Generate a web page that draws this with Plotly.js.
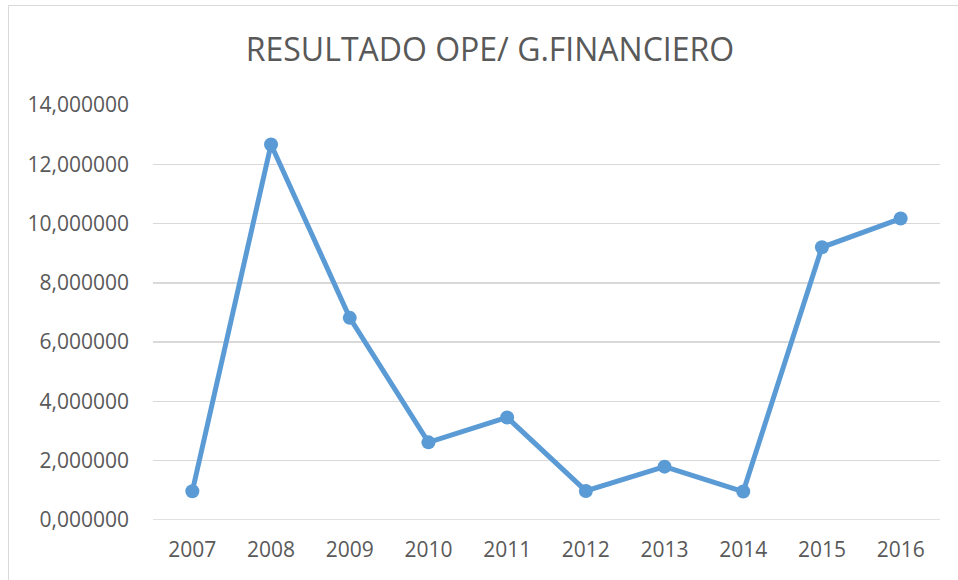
<!DOCTYPE html>
<html>
<head>
<meta charset="utf-8">
<script src="https://cdn.plot.ly/plotly-3.0.1.min.js"></script>
<style>
  html, body { margin: 0; padding: 0; background: #fff; }
  #wrap { position: relative; width: 958px; height: 580px; }
  #chart { width: 958px; height: 580px; }
  #frame { position: absolute; left: 8px; top: 5px; width: 950px; height: 575px;
           border-left: 1.5px solid #d9d9d9; border-top: 1.5px solid #d9d9d9;
           box-sizing: border-box; pointer-events: none; }
</style>
</head>
<body>
<div id="wrap">
  <div id="chart"></div>
  <div id="frame"></div>
</div>
<script>
const years = ["2007","2008","2009","2010","2011","2012","2013","2014","2015","2016"];
const resultado = [0.97, 12.67, 6.82, 2.62, 3.46, 0.98, 1.80, 0.96, 9.20, 10.17];
const yTicks = [0, 2, 4, 6, 8, 10, 12, 14];
const chartTitle = "RESULTADO OPE/ G.FINANCIERO";

const trace = {
  x: years,
  y: resultado,
  type: "scatter",
  mode: "lines+markers",
  line: { color: "#5B9BD5", width: 5 },
  marker: { color: "#5B9BD5", size: 14 },
  hoverinfo: "x+y"
};

const layout = {
  width: 958,
  height: 580,
  margin: { l: 153, r: 18, t: 105, b: 60 },
  paper_bgcolor: "#ffffff",
  plot_bgcolor: "#ffffff",
  separators: ",.",
  showlegend: false,
  font: { family: "Open Sans, sans-serif", color: "#595959", size: 21 },
  title: {
    text: chartTitle,
    font: { family: "Open Sans, sans-serif", size: 32, color: "#595959" },
    x: 490 / 958, xref: "container", xanchor: "center",
    y: 1 - 50 / 580, yref: "container", yanchor: "middle"
  },
  xaxis: {
    type: "category",
    range: [-0.5, 9.5],
    showgrid: false,
    showline: false,
    zeroline: false,
    ticks: "",
    tickfont: { size: 21, color: "#595959" },
    ticklabelstandoff: 15,
    fixedrange: true
  },
  yaxis: {
    range: [0, 14],
    tickvals: yTicks,
    tickformat: ".6f",
    showgrid: true,
    gridcolor: "#d9d9d9",
    gridwidth: 1.3,
    zeroline: false,
    showline: false,
    ticks: "",
    ticklabelstandoff: 23,
    tickfont: { size: 21, color: "#595959" },
    fixedrange: true
  },
  shapes: [{
    type: "line", xref: "paper", yref: "y",
    x0: 0, x1: 1, y0: 0, y1: 0,
    line: { color: "#d9d9d9", width: 1.3 },
    layer: "below"
  }]
};

Plotly.newPlot("chart", [trace], layout, { displayModeBar: false, staticPlot: true });
</script>
</body>
</html>
